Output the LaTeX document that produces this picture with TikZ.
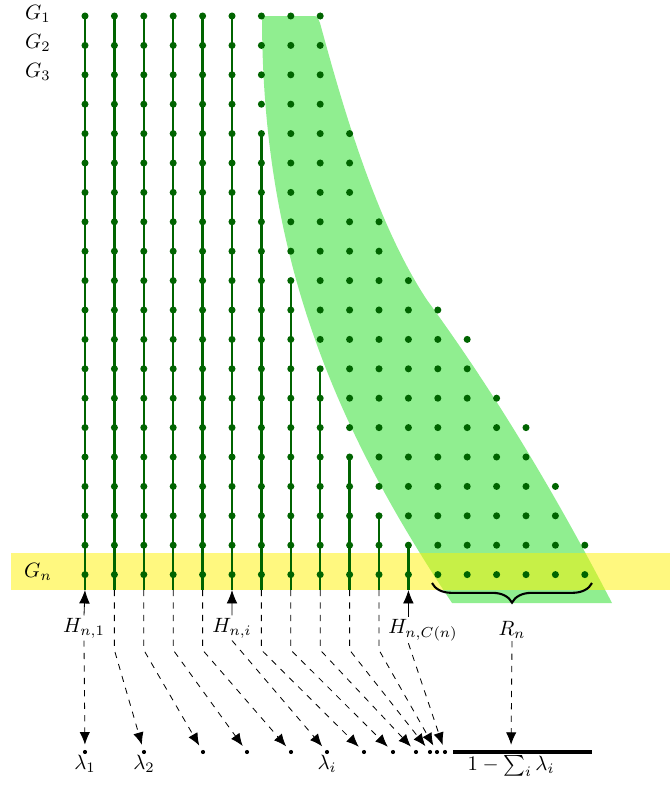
\documentclass[tikz,border=0pt]{standalone}
\usetikzlibrary{decorations.pathreplacing,arrows.meta}
\definecolor{dkgreen}{RGB}{0,100,0}
\definecolor{ltgreen}{RGB}{144,238,144}
\begin{document}
\begin{tikzpicture}[x=0.483pt,y=-0.483pt,
  gline/.style={dkgreen,line width=1.1pt},
  gdot/.style={circle,fill=dkgreen,inner sep=0pt,minimum size=3.4pt},
  ldot/.style={circle,fill=black,inner sep=0pt,minimum size=2pt},
  darr/.style={dashed,-{Latex[length=6pt,width=5pt]},shorten >=2.4pt},
  harr/.style={-{Latex[length=6.5pt,width=5.2pt]}},
  lab/.style={inner sep=1pt}]
\useasboundingbox (0,0) rectangle (670,785);

% green region
\fill[ltgreen] (262,16) -- (312,16) .. controls (317,16) .. (320,23)
  .. controls (340,96) and (374,220) .. (427,300)
  .. controls (500,400) and (560,503) .. (612,603)
  -- (452,603) .. controls (330,420) and (262,250) .. (262,16) -- cycle;

% yellow band
\fill[yellow,opacity=0.5] (11,553) rectangle (670,590);

% grid coordinates
\foreach \r/\m in {0/8,1/8,2/8,3/8,4/9,5/9,6/9,7/10,8/10,9/11,10/12,11/13,12/13,13/14,14/15,15/15,16/16,17/16,18/17,19/17}
  \foreach \c in {0,...,\m}
    \coordinate (p-\c-\r) at ({85+29.4*\c},{16+29.4*\r});

% bottom coordinates of the columns
\foreach \c in {0,...,11} {
  \coordinate (b-\c) at ({85+29.4*\c},590);
  \coordinate (k-\c) at ({85+29.4*\c},650);
}

% green vertical lines
\foreach \c/\s in {0/0,1/0,2/0,3/0,4/0,5/0,6/4,7/9,8/12,9/15,10/17,11/18}
  \draw[gline] (p-\c-\s) -- (b-\c);

% dots
\foreach \r/\m in {0/8,1/8,2/8,3/8,4/9,5/9,6/9,7/10,8/10,9/11,10/12,11/13,12/13,13/14,14/15,15/15,16/16,17/16,18/17,19/17}
  \foreach \c in {0,...,\m}
    \node[gdot] (d-\c-\r) at (p-\c-\r) {};

% row labels
\node (G1) at (38,14) {$G_1$};
\node (G2) at (38,43) {$G_2$};
\node (G3) at (38,72) {$G_3$};
\node (Gn) at (38,572) {$G_n$};

% lambda points
\foreach \c/\x in {0/85,1/144,2/203,3/247,4/291,5/327,6/364,7/393,8/416,9/430,10/437,11/445}
  \node[ldot] (l-\c) at (\x,752) {};

% interval bar
\coordinate (bar-l) at (453,752);
\coordinate (bar-r) at (592,752);
\coordinate (bar-m) at (511,752);
\draw[line width=1.5pt] (bar-l) -- (bar-r);

% H labels
\node[lab] (h1) at (84,628) {$H_{n,1}$};
\node[lab] (hi) at (232,628) {$H_{n,i}$};
\node[lab] (hC) at (423,630) {$H_{n,C(n)}$};
\node[lab] (rn) at (512,630) {$R_n$};

\draw[harr] (h1.north) -- (b-0);
\draw[harr] (hi.north) -- (b-5);
\draw[harr] (hC.north -| b-11) -- (b-11);

% brace
\coordinate (br-l) at (432,583);
\coordinate (br-r) at (592,583);
\draw[decorate,decoration={brace,mirror,amplitude=9.5pt},line width=1pt] (br-l) -- (br-r);

% dashed arrows
\draw[darr] (h1.south) -- (l-0);
\foreach \c in {1,2,3,4,6,7,8,9,10}
  \draw[darr] (b-\c) -- (k-\c) -- (l-\c);
\draw[darr] (hi.south) -- (l-5);
\draw[darr] (hC.south -| b-11) -- (l-11);
\draw[dashed,-{Latex[length=6pt,width=5pt]},shorten >=3.5pt] (rn.south) -- (bar-m);

% lambda labels
\node (lam1) at (85,764) {$\lambda_1$};
\node (lam2) at (144,764) {$\lambda_2$};
\node (lami) at (327,764) {$\lambda_i$};
\node (rest) at (511,766) {$1-\sum_i\lambda_i$};
\end{tikzpicture}
\end{document}
